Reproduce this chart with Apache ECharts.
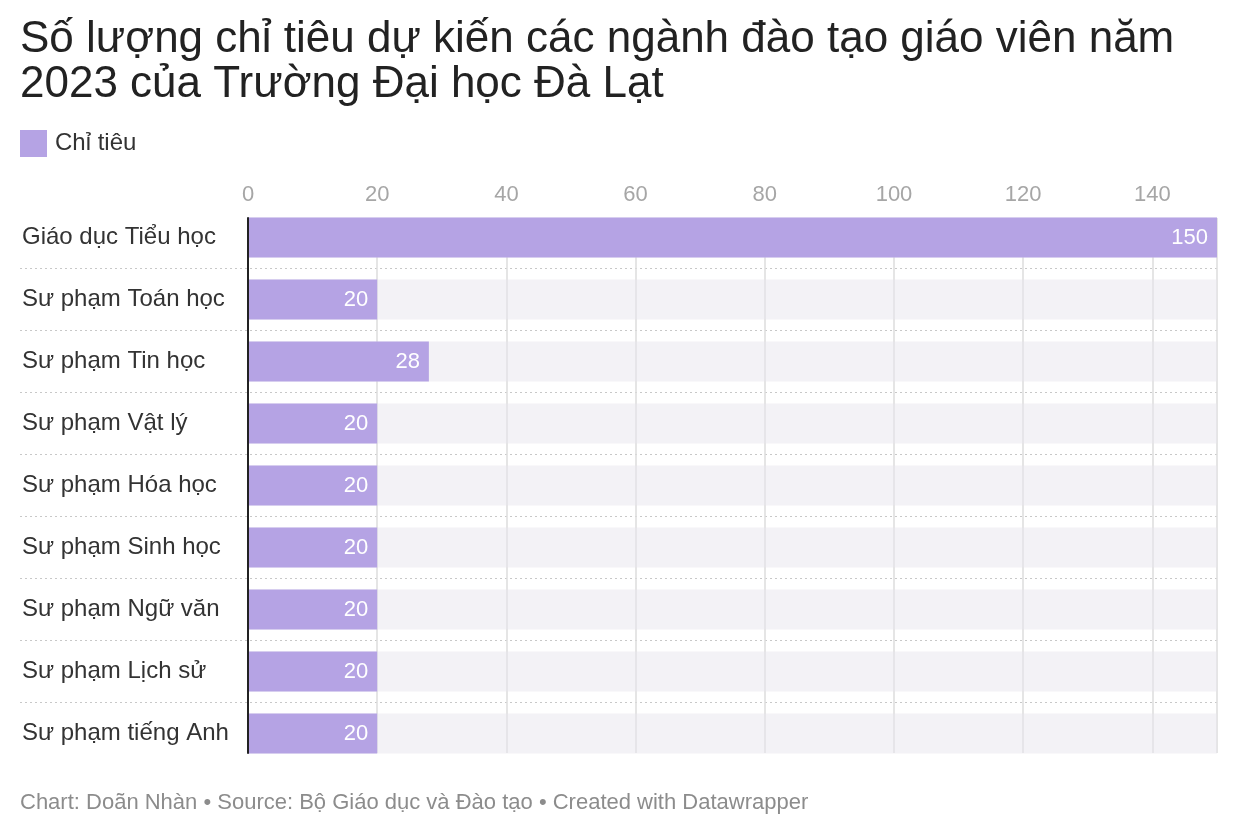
<!DOCTYPE html>
<html>
<head>
<meta charset="utf-8">
<script src="https://cdn.jsdelivr.net/npm/echarts@6/dist/echarts.min.js"></script>
<style>
  html, body { margin: 0; padding: 0; background: #ffffff; }
  #chart { width: 1240px; height: 838px; }
</style>
</head>
<body>
<div id="chart"></div>
<script>
// số liệu chỉ tiêu
const categories = [
  'Giáo dục Tiểu học', 'Sư phạm Toán học', 'Sư phạm Tin học', 'Sư phạm Vật lý',
  'Sư phạm Hóa học', 'Sư phạm Sinh học', 'Sư phạm Ngữ văn', 'Sư phạm Lịch sử',
  'Sư phạm tiếng Anh'
];
const chiTieu = [150, 20, 28, 20, 20, 20, 20, 20, 20];
const axisMax = 150;
const tickStep = 20;

const FONT = '"Liberation Sans", Arial, sans-serif';
const PURPLE = '#b5a3e4';

const chart = echarts.init(document.getElementById('chart'));

const option = {
  backgroundColor: '#ffffff',
  textStyle: { fontFamily: FONT },
  title: [{
    text: 'Số lượng chỉ tiêu dự kiến các ngành đào tạo giáo viên năm\n2023 của Trường Đại học Đà Lạt',
    left: 20,
    top: 17,
    padding: 0,
    textStyle: { fontFamily: FONT, fontSize: 44, fontWeight: 'normal', color: '#222222', lineHeight: 45 }
  }, {
    text: 'Chart: Doãn Nhàn • Source: Bộ Giáo dục và Đào tạo • Created with Datawrapper',
    left: 20,
    top: 792,
    padding: 0,
    textStyle: { fontFamily: FONT, fontSize: 22, fontWeight: 'normal', color: '#8c8c8c' }
  }],
  legend: {
    left: 20,
    top: 130,
    padding: 0,
    itemWidth: 27,
    itemHeight: 27,
    itemGap: 8,
    icon: 'rect',
    textStyle: { fontFamily: FONT, fontSize: 24, color: '#333333', padding: [0, 0, 0, 3] },
    data: ['Chỉ tiêu']
  },
  grid: [
    // bars
    { left: 248, right: 23, top: 206.5, bottom: 73.5 },
    // dotted separators across the whole width
    { left: 20, right: 23, top: 206.5, bottom: 73.5 },
    // vertical gridlines + axis line
    { left: 248, right: 23, top: 218, bottom: 85 }
  ],
  xAxis: [{
    gridIndex: 0,
    type: 'value',
    position: 'top',
    min: 0,
    max: axisMax,
    interval: tickStep,
    axisLine: { show: false },
    axisTick: { show: false },
    splitLine: { show: false },
    axisLabel: { showMaxLabel: false, margin: 1, fontSize: 22, color: '#a6a6a6', fontFamily: FONT }
  }, {
    gridIndex: 1,
    type: 'value',
    min: 0,
    max: 1,
    show: false
  }, {
    gridIndex: 2,
    type: 'value',
    min: 0,
    max: axisMax,
    interval: tickStep,
    axisLine: { show: false },
    axisTick: { show: false },
    axisLabel: { show: false },
    splitLine: { show: true, showMinLine: false, lineStyle: { color: '#dcdcdc', width: 1.5 } }
  }],
  yAxis: [{
    gridIndex: 0,
    type: 'category',
    inverse: true,
    data: categories,
    axisLine: { show: false },
    axisTick: { show: false },
    axisLabel: { align: 'left', margin: 226, fontSize: 24, color: '#333333', fontFamily: FONT }
  }, {
    gridIndex: 1,
    type: 'category',
    inverse: true,
    data: categories,
    axisLine: { show: false },
    axisTick: { show: false },
    axisLabel: { show: false },
    splitLine: {
      show: true, showMinLine: false, showMaxLine: false,
      lineStyle: { color: '#c8c8c8', type: [2, 3], width: 1 }
    }
  }, {
    gridIndex: 2,
    type: 'category',
    data: ['a'],
    z: 10,
    axisLine: { show: true, lineStyle: { color: '#222222', width: 2 } },
    axisTick: { show: false },
    axisLabel: { show: false },
    splitLine: { show: false }
  }],
  series: [{
    name: 'Chỉ tiêu',
    type: 'bar',
    xAxisIndex: 0,
    yAxisIndex: 0,
    data: chiTieu,
    barWidth: 40,
    itemStyle: { color: PURPLE },
    showBackground: true,
    backgroundStyle: { color: 'rgba(232, 230, 238, 0.5)' },
    label: {
      show: true,
      position: 'insideRight',
      distance: 9,
      color: '#ffffff',
      fontSize: 22,
      fontFamily: FONT
    }
  }]
};

chart.setOption(option);
</script>
</body>
</html>
